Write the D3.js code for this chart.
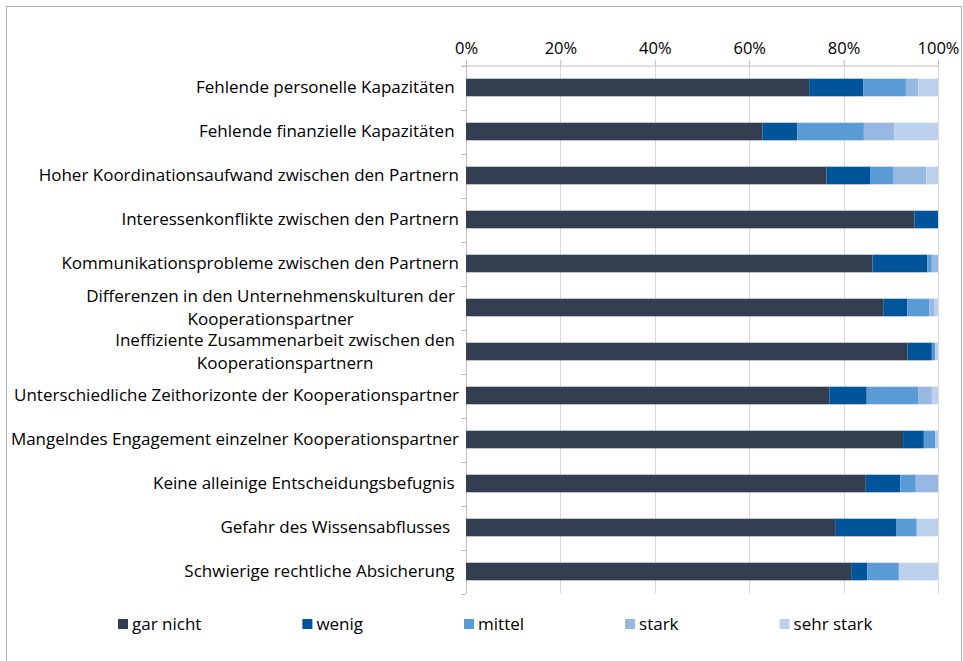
<!DOCTYPE html>
<html>
<head>
<meta charset="utf-8">
<script src="https://cdn.jsdelivr.net/npm/d3@7"></script>
<style>
  body { margin: 0; background: #fff; }
  text { font-family: "Open Sans", sans-serif; fill: #000; white-space: pre; }
</style>
</head>
<body>
<script>
// categories (each entry = lines of the label)
const categories = [
  ["Fehlende personelle Kapazitäten "],
  ["Fehlende finanzielle Kapazitäten "],
  ["Hoher Koordinationsaufwand zwischen den Partnern"],
  ["Interessenkonflikte zwischen den Partnern"],
  ["Kommunikationsprobleme zwischen den Partnern"],
  ["Differenzen in den Unternehmenskulturen der", "Kooperationspartner"],
  ["Ineffiziente Zusammenarbeit zwischen den", "Kooperationspartnern"],
  ["Unterschiedliche Zeithorizonte der Kooperationspartner"],
  ["Mangelndes Engagement einzelner Kooperationspartner"],
  ["Keine alleinige Entscheidungsbefugnis "],
  ["Gefahr des Wissensabflusses  "],
  ["Schwierige rechtliche Absicherung "]
];

const seriesNames = ["gar nicht", "wenig", "mittel", "stark", "sehr stark"];
const seriesColors = ["#333f50", "#00559a", "#5b9bd5", "#97b8e0", "#bcd1eb"];

// shares in percent, per series
const garNicht  = [72.7, 62.8, 76.4, 95.0, 86.1, 88.4, 93.5, 77.0, 92.6, 84.7, 78.2, 81.6];
const wenig     = [11.5,  7.4,  9.2,  5.0, 11.6,  5.1,  5.2,  7.9,  4.4,  7.3, 12.9,  3.4];
const mittel    = [ 9.0, 14.1,  5.0,  0.0,  1.0,  4.7,  0.7, 10.9,  2.4,  3.3,  4.4,  6.7];
const stark     = [ 2.6,  6.4,  6.9,  0.0,  1.3,  1.1,  0.0,  2.9,  0.0,  4.7,  0.0,  0.0];
const sehrStark = [ 4.2,  9.3,  2.5,  0.0,  0.0,  0.7,  0.6,  1.3,  0.6,  0.0,  4.5,  8.3];

const xTicks = [0, 20, 40, 60, 80, 100];

const series = [garNicht, wenig, mittel, stark, sehrStark];
const FS = "17px";

const W = 963, H = 661;
const svg = d3.select("body").append("svg")
  .attr("width", W).attr("height", H);

// outer frame
svg.append("rect")
  .attr("x", 6.5).attr("y", 6.5)
  .attr("width", 955).attr("height", 660)
  .attr("fill", "#fff").attr("stroke", "#b3b3b3");

const x = d3.scaleLinear().domain([0, 100]).range([466, 938]);
const y = d3.scaleBand()
  .domain(d3.range(categories.length))
  .range([65.5, 593.5])
  .paddingInner(0.6).paddingOuter(0.3);

// gridlines
svg.append("g")
  .selectAll("line")
  .data(xTicks.slice(1))
  .join("line")
  .attr("x1", d => Math.round(x(d)) + 0.5).attr("x2", d => Math.round(x(d)) + 0.5)
  .attr("y1", 60).attr("y2", 593.5)
  .attr("stroke", "#d9d9d9");

// top axis
const xAxis = svg.append("g")
  .attr("transform", "translate(0,65.5)")
  .call(d3.axisTop(x).tickValues(xTicks).tickFormat(d => d + "%").tickSize(5).tickSizeOuter(0));
xAxis.select(".domain").attr("stroke", "#bfbfbf").attr("d", "M461,0.5H938");
xAxis.selectAll(".tick line").attr("stroke", "#bfbfbf");
xAxis.selectAll(".tick text")
  .attr("y", -12)
  .style("font-family", "\"Open Sans\", sans-serif")
  .style("font-size", "16.5px")
  .attr("fill", "#000");

// left axis line with ticks at category boundaries
const step = y.step();
const yStart = 65.5;
svg.append("line")
  .attr("x1", 466.5).attr("x2", 466.5)
  .attr("y1", 60).attr("y2", 593.5)
  .attr("stroke", "#bfbfbf");
svg.append("g")
  .selectAll("line")
  .data(d3.range(categories.length + 1))
  .join("line")
  .attr("x1", 461).attr("x2", 466)
  .attr("y1", i => Math.round(yStart + i * step) + 0.5)
  .attr("y2", i => Math.round(yStart + i * step) + 0.5)
  .attr("stroke", "#bfbfbf");

// stacked bars
const stackData = categories.map((c, i) => {
  const row = { i };
  seriesNames.forEach((s, k) => row[s] = series[k][i]);
  return row;
});
const stacked = d3.stack().keys(seriesNames)(stackData);

svg.append("g")
  .selectAll("g")
  .data(stacked)
  .join("g")
  .attr("fill", (d, k) => seriesColors[k])
  .selectAll("rect")
  .data(d => d)
  .join("rect")
  .attr("x", d => x(d[0]))
  .attr("width", d => Math.max(0, x(d[1]) - x(d[0])))
  .attr("y", d => y(d.data.i))
  .attr("height", y.bandwidth());

// category labels (wrapped labels: one text, second line centred under the first)
const labels = svg.append("g");
categories.forEach((lines, i) => {
  const cy = y(i) + y.bandwidth() / 2;
  if (lines.length === 1) {
    labels.append("text")
      .attr("x", 459).attr("y", cy)
      .attr("dy", "0.35em")
      .attr("text-anchor", "end")
      .style("font-size", FS)
      .text(lines[0]);
  } else {
    const t = labels.append("text")
      .style("font-size", FS);
    const first = t.append("tspan")
      .attr("x", 455).attr("y", cy - 11.5)
      .attr("dy", "0.35em")
      .attr("text-anchor", "end")
      .text(lines[0]);
    const w0 = first.node().getComputedTextLength();
    t.append("tspan")
      .attr("x", 455 - w0 / 2).attr("y", cy + 11.5)
      .attr("dy", "0.35em")
      .attr("text-anchor", "middle")
      .text(lines[1]);
  }
});

// legend
const legend = svg.append("g").attr("transform", "translate(118,619)");
let lx = 0;
seriesNames.forEach((name, k) => {
  legend.append("rect")
    .attr("x", lx).attr("y", 0)
    .attr("width", 10).attr("height", 10)
    .attr("fill", seriesColors[k]);
  const t = legend.append("text")
    .attr("x", lx + 14).attr("y", 5)
    .attr("dy", "0.35em")
    .style("font-size", FS)
    .text(name);
  lx += 14 + t.node().getComputedTextLength() + 101;
});
</script>
</body>
</html>
